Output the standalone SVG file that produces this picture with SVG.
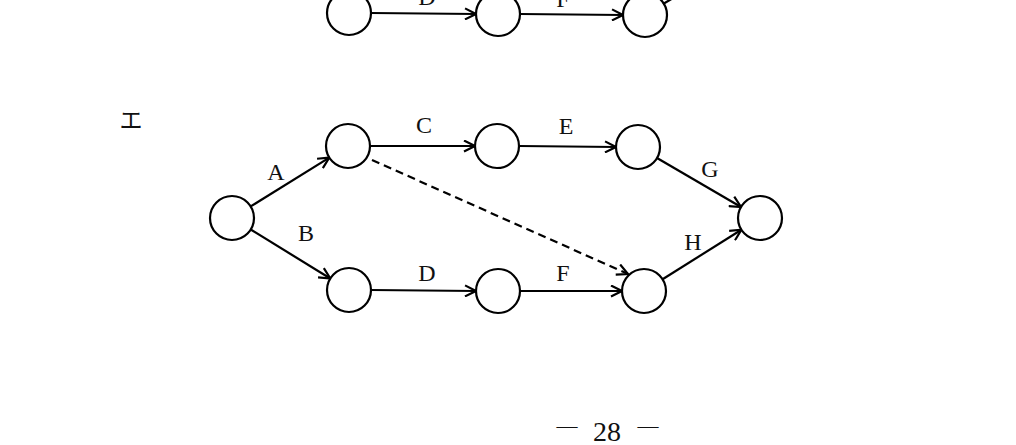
<svg xmlns="http://www.w3.org/2000/svg" width="1016" height="445" viewBox="0 0 1016 445">
<style>
.node{fill:#fff;stroke:#000;stroke-width:2.2}
.edge{stroke:#000;stroke-width:2.2;fill:none}
.dash{stroke-dasharray:8,5}
.lbl{font-family:"Liberation Serif","DejaVu Serif",serif;font-size:24px;fill:#111;text-anchor:middle}
</style>
<defs>
<marker id="arr" viewBox="0 0 13 13" refX="12" refY="6.5" markerWidth="13" markerHeight="13" markerUnits="userSpaceOnUse" orient="auto">
<path d="M1,1 L12,6.5 L1,12" fill="none" stroke="#000" stroke-width="2.2"/>
</marker>
</defs>
<rect width="1016" height="445" fill="#fff"/>

<g id="top-partial">
<circle class="node" cx="349" cy="13" r="22"/>
<circle class="node" cx="498" cy="14" r="22"/>
<circle class="node" cx="645" cy="15" r="22"/>
<line class="edge" x1="371" y1="13" x2="476" y2="14" marker-end="url(#arr)"/>
<line class="edge" x1="520" y1="14" x2="623" y2="15" marker-end="url(#arr)"/>
<line class="edge" x1="663" y1="4" x2="680" y2="-6"/>
<text class="lbl" x="427" y="5">D</text>
<text class="lbl" x="563" y="7">F</text>
</g>

<text x="131" y="128" font-family="Noto Sans CJK JP, sans-serif" font-size="23" fill="#111" text-anchor="middle">エ</text>

<g id="connectors">
<line class="edge" x1="250.7" y1="206.4" x2="329.3" y2="157.6" marker-end="url(#arr)"/>
<line class="edge" x1="250.7" y1="229.5" x2="330.3" y2="278.5" marker-end="url(#arr)"/>
<line class="edge" x1="370" y1="146" x2="475" y2="146" marker-end="url(#arr)"/>
<line class="edge" x1="519" y1="146" x2="616" y2="147" marker-end="url(#arr)"/>
<line class="edge" x1="371" y1="290" x2="476" y2="291" marker-end="url(#arr)"/>
<line class="edge" x1="520" y1="291" x2="622" y2="291" marker-end="url(#arr)"/>
<line class="edge" x1="657" y1="158" x2="741" y2="207" marker-end="url(#arr)"/>
<line class="edge" x1="662.6" y1="279.3" x2="741.4" y2="229.7" marker-end="url(#arr)"/>
<line class="edge dash" x1="372" y1="160" x2="628" y2="274" marker-end="url(#arr)"/>
</g>

<g id="n1"><circle class="node" cx="232" cy="218" r="22"/></g>
<g id="n2"><circle class="node" cx="348" cy="146" r="22"/></g>
<g id="n3"><circle class="node" cx="349" cy="290" r="22"/></g>
<g id="n4"><circle class="node" cx="497" cy="146" r="22"/></g>
<g id="n5"><circle class="node" cx="498" cy="291" r="22"/></g>
<g id="n6"><circle class="node" cx="638" cy="147" r="22"/></g>
<g id="n7"><circle class="node" cx="644" cy="291" r="22"/></g>
<g id="n8"><circle class="node" cx="760" cy="218" r="22"/></g>

<g id="labels">
<text class="lbl" x="276" y="180">A</text>
<text class="lbl" x="306" y="241">B</text>
<text class="lbl" x="424" y="133">C</text>
<text class="lbl" x="427" y="281">D</text>
<text class="lbl" x="566" y="134">E</text>
<text class="lbl" x="563" y="281">F</text>
<text class="lbl" x="710" y="177">G</text>
<text class="lbl" x="693" y="250">H</text>
</g>

<text font-family="Liberation Serif, serif" fill="#111" text-anchor="middle"><tspan x="567" y="433" font-size="21">—</tspan><tspan x="607" y="441" font-size="28">28</tspan><tspan x="648" y="433" font-size="21">—</tspan></text>
</svg>
